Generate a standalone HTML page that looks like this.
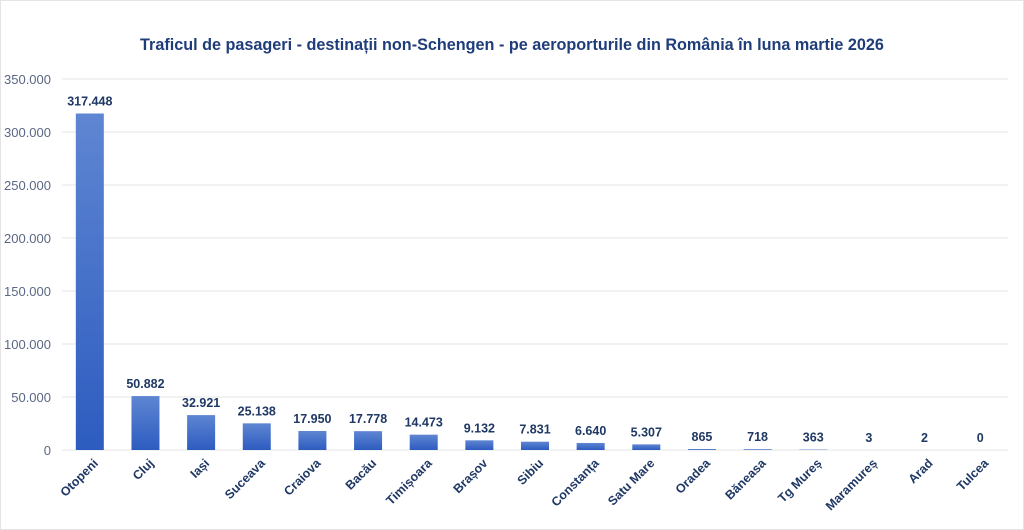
<!DOCTYPE html>
<html><head><meta charset="utf-8"><style>
body{margin:0;background:#fff;}
svg{display:block;font-family:"Liberation Sans",sans-serif;}
</style></head><body>
<svg id="chart" width="1024" height="530" viewBox="0 0 1024 530">
<defs><linearGradient id="g" x1="0" y1="0" x2="0" y2="1"><stop offset="0" stop-color="#5f86d2"/><stop offset="1" stop-color="#2d5cc0"/></linearGradient></defs>
<rect x="0.5" y="0.5" width="1023" height="529" fill="#fff" stroke="#e4e4e4"/>
<text x="512" y="50" text-anchor="middle" font-size="16.2" font-weight="bold" fill="#1f3d7a">Traficul de pasageri - destinații non-Schengen - pe aeroporturile din România în luna martie 2026</text>
<g id="grid"></g><g id="bars"></g>
</svg>
<script>
const categories=["Otopeni","Cluj","Iași","Suceava","Craiova","Bacău","Timișoara","Brașov","Sibiu","Constanța","Satu Mare","Oradea","Băneasa","Tg Mureș","Maramureș","Arad","Tulcea"];
const values=[317448,50882,32921,25138,17950,17778,14473,9132,7831,6640,5307,865,718,363,3,2,0];
const tickValues=[0,50000,100000,150000,200000,250000,300000,350000];
const svg=document.getElementById('chart'),NS='http://www.w3.org/2000/svg';
const x0=62,x1=1008,y0=450,y1=79,max=350000;
const y=v=>y0-(v/max)*(y0-y1);
const step=(x1-x0)/categories.length;
const xc=i=>x0+step*(i+0.5);
const fmt=v=>v.toLocaleString('de-DE');
function el(t,a,p){const e=document.createElementNS(NS,t);for(const k in a)e.setAttribute(k,a[k]);p.appendChild(e);return e;}
const grid=document.getElementById('grid'),bars=document.getElementById('bars');
tickValues.forEach(v=>{
 const l=el('line',{x1:x0,x2:x1,y1:y(v),y2:y(v),stroke:'#e6e6e6','stroke-width':1},grid);
 
 
 const t=el('text',{x:51,y:y(v)+5,'text-anchor':'end','font-size':13,fill:'#5a6785'},grid);
 t.textContent=fmt(v);
 
 
});
categories.forEach((c,i)=>{
 const bw=28,h=y0-y(values[i]);
 const r=el('rect',{x:xc(i)-bw/2,y:y(values[i]),width:bw,height:Math.max(h,0),fill:'url(#g)'},bars);
 
 
 const vl=el('text',{x:xc(i),y:y(values[i])-8,'text-anchor':'middle','font-size':12.5,'font-weight':'bold',fill:'#1f3864'},bars);
 vl.textContent=fmt(values[i]);
 
 
 const lx=xc(i)+9,ly=y0+14;
 const cl=el('text',{x:lx,y:ly,'text-anchor':'end','font-size':12.5,'font-weight':'bold',fill:'#1f3864',transform:`rotate(-45 ${lx} ${ly})`},bars);
 cl.textContent=c;
 
 
});
</script>
</body></html>
